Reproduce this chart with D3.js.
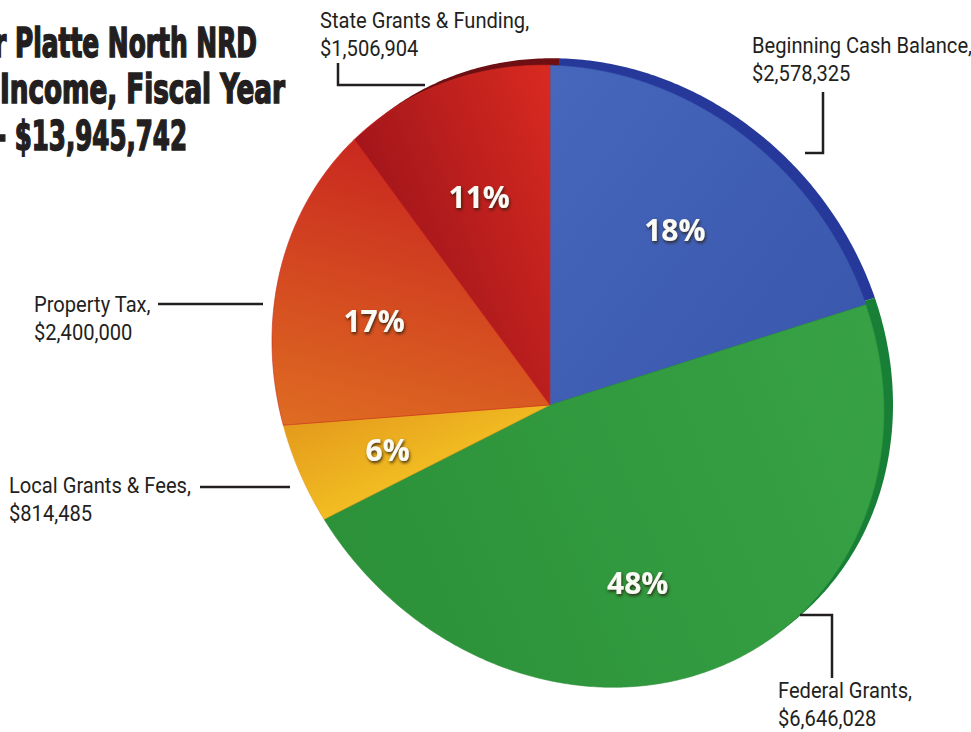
<!DOCTYPE html>
<html><head><meta charset="utf-8">
<script src="https://cdn.jsdelivr.net/npm/d3@7"></script>
<style>html,body{margin:0;padding:0;background:#fff;}svg{display:block;}</style>
</head><body>
<svg id="chart" width="971" height="732"></svg>
<script>
// ---- data ----
const categories = ["Beginning Cash Balance", "Federal Grants", "Local Grants & Fees", "Property Tax", "State Grants & Funding"];
const values = [2578325, 6646028, 814485, 2400000, 1506904];
const percentLabels = ["18%", "48%", "6%", "17%", "11%"];
const valueLabels = ["$2,578,325", "$6,646,028", "$814,485", "$2,400,000", "$1,506,904"];
const titleLines = ["r Platte North NRD", "Income, Fiscal Year", "- $13,945,742"];

// ---- styles / layout ----
const topColors = [["#4667bc", "#3a58ad"], ["#37a245", "#2c9139"], ["#f2bd22", "#e49a1c"], ["#df6c22", "#c9281f"], ["#a3161b", "#d92a20"]];
const rimColors = ["#26399b", "#187f36", "#c8861a", "#a8261a", "#6e1013"];
const calloutLayout = [
  {x: 752, y: 53, path: [[823, 92], [823, 153], [805, 153]]},
  {x: 778, y: 698, path: [[800, 615], [832, 615], [832, 678]]},
  {x: 9, y: 493, path: [[200, 487], [290, 487]]},
  {x: 34, y: 312, path: [[158, 304], [263, 304]]},
  {x: 320, y: 28, path: [[338, 63], [338, 85], [425, 85]]}
];
// view of the pie plane: pivot in the picture, plane outline (ellipse relative to pivot), shear of the plane
const pivot = [550, 405];
const outline = {cx: 28, cy: -32, rx: 306, ry: 309};
const shear = 0.116;
const rimShift = [9, -7];

const svg = d3.select("#chart");
const defs = svg.append("defs");
const shadow = defs.append("filter").attr("id", "ts").attr("x", "-30%").attr("y", "-30%").attr("width", "160%").attr("height", "160%");
shadow.append("feDropShadow").attr("dx", 1).attr("dy", 2).attr("stdDeviation", 1.6).attr("flood-color", "#2a1a10").attr("flood-opacity", 0.85);

// point on the ray at data angle theta, fraction f of the way to the outline, projected to the picture
function project(theta, f, off) {
  const dx = Math.sin(theta), dy = -Math.cos(theta);
  const qx = -outline.cx, qy = -outline.cy;
  const a = (dx * dx) / (outline.rx * outline.rx) + (dy * dy) / (outline.ry * outline.ry);
  const b = 2 * (qx * dx / (outline.rx * outline.rx) + qy * dy / (outline.ry * outline.ry));
  const c = (qx * qx) / (outline.rx * outline.rx) + (qy * qy) / (outline.ry * outline.ry) - 1;
  const t = (-b + Math.sqrt(b * b - 4 * a * c)) / (2 * a);
  const u = f * t * dx, v = f * t * dy;
  return [pivot[0] + u + off[0], pivot[1] + v + shear * u + off[1]];
}
const line = d3.line();
function slicePath(d, off) {
  const n = Math.max(4, Math.ceil((d.endAngle - d.startAngle) / 0.01));
  const pts = [project(0, 0, off)];
  for (let i = 0; i <= n; i++) pts.push(project(d.startAngle + (d.endAngle - d.startAngle) * i / n, 1, off));
  return line(pts) + "Z";
}

const arcs = d3.pie().sort(null).value(d => d)(values);

arcs.forEach((d, i) => {
  const a = project(d.startAngle, 1, [0, 0]), b = project(d.endAngle, 1, [0, 0]);
  const g = defs.append("linearGradient").attr("id", "g" + i).attr("gradientUnits", "userSpaceOnUse")
    .attr("x1", a[0]).attr("y1", a[1]).attr("x2", b[0]).attr("y2", b[1]);
  g.append("stop").attr("offset", "0%").attr("stop-color", topColors[i][0]);
  g.append("stop").attr("offset", "100%").attr("stop-color", topColors[i][1]);
});

svg.append("g").selectAll("path").data(arcs).join("path")
  .attr("d", d => slicePath(d, rimShift))
  .attr("fill", (d, i) => rimColors[i]);

svg.append("g").selectAll("path").data(arcs).join("path")
  .attr("d", d => slicePath(d, [0, 0]))
  .attr("fill", (d, i) => `url(#g${i})`)
  .attr("stroke", (d, i) => topColors[i][1]).attr("stroke-width", 0.6);

svg.append("g").selectAll("text").data(arcs).join("text")
  .attr("x", d => project((d.startAngle + d.endAngle) / 2, 0.65, [0, 0])[0])
  .attr("y", d => project((d.startAngle + d.endAngle) / 2, 0.65, [0, 0])[1])
  .attr("text-anchor", "middle").attr("dominant-baseline", "central")
  .attr("font-family", "'Open Sans', Lato, sans-serif").attr("font-weight", 700).attr("font-size", 30)
  .attr("fill", "#fbfbf6").attr("filter", "url(#ts)")
  .text((d, i) => percentLabels[i]);

const cg = svg.append("g");
calloutLayout.forEach((c, i) => {
  cg.append("path").attr("d", d3.line()(c.path)).attr("fill", "none").attr("stroke", "#231f20").attr("stroke-width", 2.5);
  const t = cg.append("text").attr("transform", `translate(${c.x},${c.y}) scale(0.915,1)`)
    .attr("font-family", "Roboto, sans-serif").attr("font-size", 22).attr("fill", "#231f20");
  t.append("tspan").attr("x", 0).attr("y", 0).text(categories[i] + ",");
  t.append("tspan").attr("x", 0).attr("y", 28).text(valueLabels[i]);
});

const titleGeom = [{x: -6, y: 57, w: 263}, {x: 0, y: 103, w: 285}, {x: -4, y: 150, w: 191}];
svg.append("g").selectAll("text").data(titleLines).join("text")
  .attr("x", (d, i) => titleGeom[i].x).attr("y", (d, i) => titleGeom[i].y)
  .attr("textLength", (d, i) => titleGeom[i].w).attr("lengthAdjust", "spacingAndGlyphs")
  .attr("font-family", "'DejaVu Sans Condensed', 'DejaVu Sans', sans-serif")
  .attr("font-weight", 700).attr("font-size", 40)
  .attr("fill", "#231f20").attr("stroke", "#231f20").attr("stroke-width", 1.6)
  .text(d => d);
</script>
</body></html>
